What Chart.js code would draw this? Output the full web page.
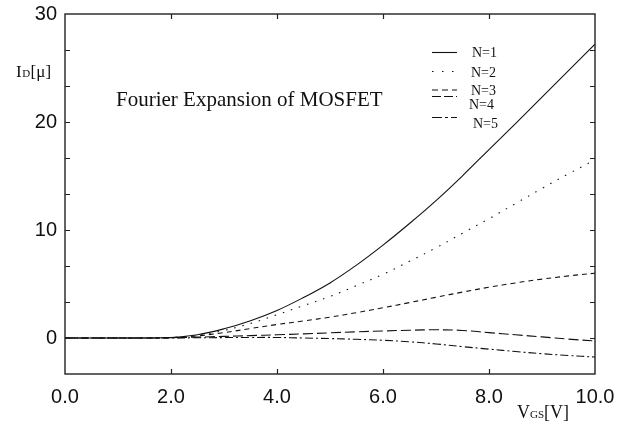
<!DOCTYPE html>
<html>
<head>
<meta charset="utf-8">
<script src="https://cdn.jsdelivr.net/npm/chart.js@4.4.1/dist/chart.umd.min.js"></script>
<style>
html,body{margin:0;padding:0;background:#fff;}
canvas{display:block;}
</style>
</head>
<body>
<canvas id="c" width="637" height="421"></canvas>
<script>
// ---- data ----
const xValues  = [0, 0.5, 1, 1.5, 2, 2.5, 3, 3.5, 4, 4.5, 5, 5.5, 6, 6.5, 7, 7.5, 8, 8.5, 9, 9.5, 10];
const seriesN1 = [0, 0, 0, 0, 0.05, 0.3, 0.85, 1.6, 2.55, 3.75, 5.1, 6.75, 8.6, 10.6, 12.72, 15.02, 17.45, 19.85, 22.3, 24.75, 27.2];
const seriesN2 = [0, 0, 0, 0, 0.04, 0.26, 0.7, 1.35, 2.15, 3.0, 3.85, 4.85, 5.9, 7.1, 8.35, 9.7, 11.05, 12.45, 13.85, 15.2, 16.5];
const seriesN3 = [0, 0, 0, 0, 0.03, 0.2, 0.5, 0.88, 1.25, 1.58, 1.93, 2.35, 2.8, 3.28, 3.77, 4.25, 4.7, 5.1, 5.45, 5.75, 6.0];
const seriesN4 = [0, 0, 0, 0, 0.02, 0.08, 0.15, 0.22, 0.3, 0.38, 0.48, 0.57, 0.65, 0.72, 0.76, 0.7, 0.5, 0.3, 0.1, -0.1, -0.28];
const seriesN5 = [0, 0, 0, 0, 0.01, 0.02, 0.04, 0.05, 0.05, 0.0, -0.05, -0.12, -0.21, -0.35, -0.55, -0.8, -1.03, -1.25, -1.45, -1.62, -1.76];
const seriesLabels = ['N=1', 'N=2', 'N=3', 'N=4', 'N=5'];
const xTickValues = [0, 2, 4, 6, 8, 10];
const xTickLabels = ['0.0', '2.0', '4.0', '6.0', '8.0', '10.0'];
const yTickValues = [-10/3, 0, 10/3, 20/3, 10, 40/3, 50/3, 20, 70/3, 80/3, 30];
const yTickLabels = ['', '0', '', '', '10', '', '', '20', '', '', '30'];

const seriesValues = [seriesN1, seriesN2, seriesN3, seriesN4, seriesN5];
const dashes = [[], [1.5, 7], [5, 4], [10, 4], [8, 3, 2, 3]];

const datasets = seriesValues.map((vals, i) => ({
  label: seriesLabels[i],
  data: xValues.map((x, j) => ({x: x, y: vals[j]})),
  borderColor: '#111',
  borderWidth: 1.1,
  borderDash: dashes[i],
  pointRadius: 0,
  fill: false,
  tension: 0.4
}));

const INK = '#111';

const frameTicks = {
  id: 'frameTicks',
  afterDatasetsDraw(chart) {
    const {ctx, chartArea: a, scales: {x, y}} = chart;
    ctx.save();
    ctx.strokeStyle = '#222';
    ctx.lineWidth = 1.4;
    ctx.setLineDash([]);
    ctx.strokeRect(a.left, a.top, a.right - a.left, a.bottom - a.top);
    ctx.lineWidth = 1.2;
    const L = 5;
    ctx.beginPath();
    x.ticks.forEach(t => {
      if (t.value <= x.min || t.value >= x.max) return;
      const px = Math.round(x.getPixelForValue(t.value)) + 0.5;
      ctx.moveTo(px, a.bottom); ctx.lineTo(px, a.bottom - L);
      ctx.moveTo(px, a.top); ctx.lineTo(px, a.top + L);
    });
    y.ticks.forEach(t => {
      if (t.value <= y.min + 1e-9 || t.value >= y.max - 1e-9) return;
      const py = Math.round(y.getPixelForValue(t.value)) + 0.5;
      ctx.moveTo(a.left, py); ctx.lineTo(a.left + L, py);
      ctx.moveTo(a.right, py); ctx.lineTo(a.right - L, py);
    });
    ctx.stroke();
    ctx.restore();
  }
};

const annotations = {
  id: 'annotations',
  afterDraw(chart) {
    const ctx = chart.ctx;
    ctx.save();
    ctx.fillStyle = INK;
    ctx.textBaseline = 'alphabetic';
    ctx.textAlign = 'left';
    const serif = '"Liberation Serif", "Times New Roman", serif';
    // title text
    ctx.font = '21px ' + serif;
    ctx.fillText('Fourier Expansion of MOSFET', 116, 106);
    // y axis title  I_D[μ]
    let xx = 16;
    ctx.font = '17px ' + serif;
    ctx.fillText('I', xx, 77); xx += ctx.measureText('I').width + 0.5;
    ctx.font = '11px ' + serif;
    ctx.fillText('D', xx, 77); xx += ctx.measureText('D').width + 0.5;
    ctx.font = '17px ' + serif;
    ctx.fillText('[μ]', xx, 77);
    // x axis title V_GS[V]
    xx = 517;
    ctx.font = '18px ' + serif;
    ctx.fillText('V', xx, 418); xx += ctx.measureText('V').width;
    ctx.font = '11px ' + serif;
    ctx.fillText('GS', xx, 418); xx += ctx.measureText('GS').width;
    ctx.font = '18px ' + serif;
    ctx.fillText('[V]', xx, 418);
    // legend
    const rows = [
      {lineY: 52, textY: 56.5, textX: 472},
      {lineY: 71, textY: 77, textX: 471},
      {lineY: 89.5, textY: 95, textX: 471},
      {lineY: 96, textY: 109, textX: 469},
      {lineY: 117, textY: 128, textX: 473}
    ];
    const legendDash = [[], [1.5, 8.5], [6, 4], [9, 3], [10, 3, 3, 3]];
    chart.data.datasets.forEach((ds, i) => {
      const r = rows[i];
      ctx.strokeStyle = ds.borderColor;
      ctx.lineWidth = 1.1;
      ctx.setLineDash(legendDash[i]);
      ctx.beginPath();
      ctx.moveTo(432, r.lineY + 0.5);
      ctx.lineTo(457, r.lineY + 0.5);
      ctx.stroke();
      ctx.setLineDash([]);
      ctx.font = '14px ' + serif;
      ctx.fillText(ds.label, r.textX, r.textY);
    });
    ctx.restore();
  }
};

new Chart(document.getElementById('c'), {
  type: 'line',
  data: {datasets: datasets},
  options: {
    responsive: false,
    animation: false,
    devicePixelRatio: 1,
    layout: {padding: {top: 14, right: 42, left: 0, bottom: 0}},
    plugins: {legend: {display: false}, tooltip: {enabled: false}, title: {display: false}},
    scales: {
      x: {
        type: 'linear',
        min: 0, max: 10,
        afterBuildTicks: s => { s.ticks = xTickValues.map(v => ({value: v})); },
        afterFit: s => { s.height = 47; s.paddingLeft = 0; s.paddingRight = 0; },
        grid: {display: false, drawTicks: false},
        border: {display: false},
        ticks: {
          color: INK,
          padding: 11,
          maxRotation: 0,
          autoSkip: false,
          font: {family: '"Liberation Sans", Arial, sans-serif', size: 20},
          callback: (v, i) => xTickLabels[i]
        }
      },
      y: {
        min: -10/3, max: 30,
        afterBuildTicks: s => { s.ticks = yTickValues.map(v => ({value: v})); },
        afterFit: s => { s.width = 65; s.paddingTop = 0; s.paddingBottom = 0; },
        grid: {display: false, drawTicks: false},
        border: {display: false},
        ticks: {
          color: INK,
          padding: 8,
          autoSkip: false,
          font: {family: '"Liberation Sans", Arial, sans-serif', size: 20},
          callback: (v, i) => yTickLabels[i]
        }
      }
    }
  },
  plugins: [frameTicks, annotations]
});
</script>
</body>
</html>
